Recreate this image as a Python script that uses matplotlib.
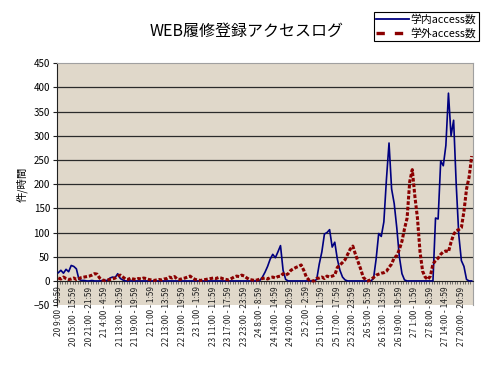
import matplotlib
matplotlib.use("Agg")
import matplotlib.pyplot as plt
from matplotlib.lines import Line2D
from matplotlib.ticker import MultipleLocator, FixedLocator
import numpy as np

plt.rcParams['font.family'] = ['Noto Sans CJK JP', 'DejaVu Sans']

# hours that appear in the log, per day (hours with no access are missing)
days = [20, 21, 22, 23, 24, 25, 26, 27, 28]
day_hours = [
    [9, 10, 11, 12, 13, 14, 15, 16, 17, 18, 19, 20, 21, 22, 23],
    [0, 1, 2, 4, 8, 9, 10, 11, 12, 13, 14, 15, 16, 17, 18, 19, 20, 21, 22, 23],
    [0, 1, 2, 9, 10, 11, 12, 13, 14, 15, 16, 17, 18, 19, 20, 21, 22, 23],
    [0, 1, 2, 7, 8, 9, 10, 11, 12, 13, 14, 15, 16, 17, 18, 19, 20, 21, 22, 23],
    [0, 1, 2, 6, 7, 8, 9, 10, 11, 12, 13, 14, 15, 16, 17, 18, 19, 20, 21, 22, 23],
    [0, 1, 2, 3, 7, 8, 9, 10, 11, 12, 13, 14, 15, 16, 17, 18, 19, 20, 21, 22, 23],
    [0, 1, 2, 3, 4, 5, 8, 9, 10, 11, 12, 13, 14, 15, 16, 17, 18, 19, 20, 21, 22, 23],
    [0, 1, 2, 3, 5, 6, 7, 8, 9, 10, 11, 12, 13, 14, 15, 16, 17, 18, 19, 20, 21, 22, 23],
    [0],
]

# 学内 access per hour
inside = [
    17, 22, 16, 24, 19, 32, 30, 25, 3, 1,
    1, 0, 0, 1, 0, 0, 0, 1, 1, 1,
    6, 8, 7, 15, 5, 2, 0, 0, 0, 0,
    0, 0, 0, 0, 0, 0, 0, 0, 0, 0,
    0, 0, 0, 0, 0, 0, 0, 0, 0, 0,
    0, 0, 0, 0, 0, 0, 0, 0, 0, 0,
    0, 0, 0, 0, 0, 0, 0, 0, 0, 0,
    0, 0, 0, 0, 0, 0, 0, 0, 1, 8,
    18, 30, 45, 55, 48, 60, 73, 22, 3, 0,
    0, 0, 0, 0, 0, 0, 0, 0, 0, 0,
    3, 35, 60, 97, 100, 106, 70, 80, 45, 22,
    8, 2, 0, 0, 0, 0, 0, 0, 0, 0,
    0, 0, 5, 45, 98, 92, 122, 210, 285, 190,
    160, 110, 50, 15, 2, 0, 0, 0, 0, 0,
    0, 0, 0, 0, 0, 0, 130, 128, 248, 238,
    280, 388, 300, 332, 200, 95, 42, 30, 3, 0,
    0,
]

# 学外 access per hour
outside = [
    6, 4, 8, 5, 3, 4, 6, 3, 5, 7,
    8, 9, 10, 12, 15, 14, 6, 2, 1, 2,
    3, 4, 6, 10, 12, 8, 4, 3, 6, 4,
    3, 5, 4, 6, 5, 3, 2, 1, 2, 3,
    2, 4, 5, 8, 6, 9, 4, 3, 5, 6,
    8, 10, 6, 3, 2, 1, 2, 3, 4, 5,
    6, 5, 7, 6, 4, 3, 2, 5, 8, 10,
    9, 12, 10, 6, 3, 2, 1, 2, 4, 5,
    6, 4, 7, 8, 6, 9, 10, 15, 12, 15,
    22, 25, 28, 30, 33, 22, 8, 2, 0, 0,
    5, 6, 8, 5, 10, 8, 10, 12, 28, 33,
    38, 44, 55, 66, 72, 55, 40, 25, 8, 2,
    0, 3, 7, 12, 14, 16, 17, 20, 28, 35,
    48, 52, 65, 82, 108, 130, 205, 230, 175, 130,
    60, 20, 8, 3, 10, 35, 42, 47, 55, 60,
    62, 60, 80, 96, 104, 106, 110, 144, 190, 215,
    258,
]

labels = []
for d, hrs in zip(days, day_hours):
    for h in hrs:
        labels.append(f"{d} {h}:00 - {h}:59")

n = len(labels)
x = np.arange(n)

fig = plt.figure(figsize=(5, 3.65), dpi=100)
ax = fig.add_axes([0.114, 0.164, 0.832, 0.663])
ax.set_facecolor('#e0d8ca')

ax.plot(x, inside, color='#000080', lw=1.2, zorder=3)
ax.plot(x, outside, color='#8b0000', lw=2.2, dashes=(1.2, 0.6), zorder=4)

ax.set_ylim(-50, 450)
ax.set_xlim(-0.5, n - 0.5)
ax.yaxis.set_major_locator(MultipleLocator(50))
for yv in range(50, 450, 50):
    ax.axhline(yv, color='#2b2b2b', lw=0.9, zorder=1)

ax.spines['bottom'].set_position(('data', 0))
ax.spines['bottom'].set_color('#202020')
ax.spines['bottom'].set_linewidth(0.8)
ax.spines['left'].set_color('#202020')
ax.spines['left'].set_linewidth(0.8)
ax.spines['top'].set_color('#a0a0a0')
ax.spines['right'].set_color('#a0a0a0')

ax.set_xticks(x[::6])
ax.set_xticklabels(labels[::6], rotation=90, fontsize=6.0, color='#222222')
ax.xaxis.set_minor_locator(FixedLocator(np.arange(n + 1) - 0.5))
ax.tick_params(axis='x', which='major', length=0, pad=4)
ax.tick_params(axis='x', which='minor', length=2, width=0.5, color='#444444')
ax.tick_params(axis='y', length=3, width=0.8, labelsize=7, pad=2, color='#202020')

ax.set_ylabel('件/時間', fontsize=7.5, labelpad=4)

fig.text(0.493, 0.915, 'WEB履修登録アクセスログ', fontsize=11.5, ha='center', va='center')

handles = [
    Line2D([], [], color='#000080', lw=1.3),
    Line2D([], [], color='#8b0000', lw=2.4, dashes=(2.5, 3.0)),
]
leg = fig.legend(handles, ['学内access数', '学外access数'], loc='upper right',
                 bbox_to_anchor=(0.957, 0.968), fontsize=7.8, frameon=True,
                 fancybox=False, edgecolor='black', framealpha=1,
                 handlelength=3.0, handletextpad=0.1, borderpad=0.25,
                 labelspacing=0.25, borderaxespad=0)
leg.get_frame().set_linewidth(0.8)

fig.savefig('out.png', dpi=100)
